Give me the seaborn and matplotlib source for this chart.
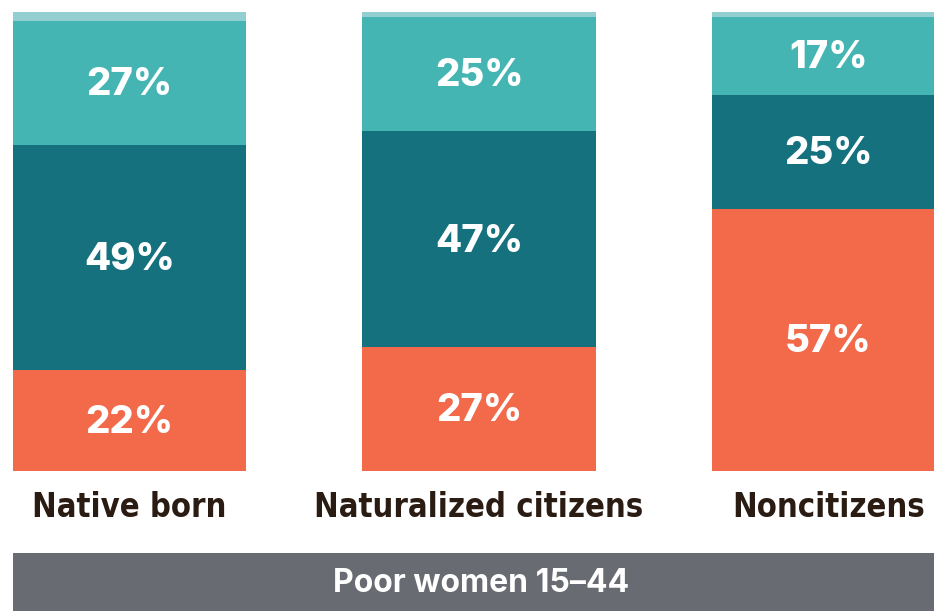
"""Stacked share bars: poor women 15-44 by citizenship status."""

import matplotlib

matplotlib.use("Agg")
import matplotlib.pyplot as plt
import pandas as pd
import seaborn as sns

GROUPS = ["Native born", "Naturalized citizens", "Noncitizens"]
BOTTOM = [22, 27, 57]   # orange segment
MIDDLE = [49, 47, 25]   # dark teal segment
TOP = [27, 25, 17]      # teal segment
REST = [2, 1, 1]        # thin light strip on top
BANNER = "Poor women 15–44"

COLORS = ["#F26A4A", "#14717D", "#44B5B3", "#93CFD0"]

sns.set_theme(style="white")
plt.rcParams["font.family"] = ["Inter", "DejaVu Sans"]

df = pd.DataFrame({"group": GROUPS, "bottom": BOTTOM, "middle": MIDDLE,
                   "top": TOP, "rest": REST})
segs = ["bottom", "middle", "top", "rest"]
cum = df[segs].cumsum(axis=1)

fig = plt.figure(figsize=(9.34, 6.11), dpi=100)
ax = fig.add_axes([13 / 934, 140 / 611, 921 / 934, 459 / 611])

# draw from the tallest cumulative total down so lower segments sit on top
for seg, color in reversed(list(zip(segs, COLORS))):
    sns.barplot(x=df["group"], y=cum[seg], color=color, width=0.667,
                saturation=1, linewidth=0, ax=ax, order=GROUPS)

ax.set_xlim(-0.3335, 2.302)
ax.set_ylim(0, 100)
ax.axis("off")

# percentage labels, centred in each segment
for i in range(len(GROUPS)):
    lo = 0
    for seg in segs[:3]:
        v = df.loc[i, seg]
        ax.text(i, lo + v / 2 - 0.5, f"{v}%", ha="center", va="center",
                color="white", fontsize=27.5, fontweight="heavy")
        lo += v

for i, g in enumerate(GROUPS):
    ax.text(i, -7.9, g, ha="center", va="center", color="#2A1C12",
            fontsize=23.5, fontweight="bold", fontstretch="condensed",
            family=["DejaVu Sans"], clip_on=False)

fig.patches.append(plt.Rectangle((13 / 934, 0), 921 / 934, 58 / 611,
                                 transform=fig.transFigure,
                                 facecolor="#696B73", edgecolor="none"))
fig.text(481 / 934, 27 / 611, BANNER, ha="center", va="center",
         color="white", fontsize=23, fontweight="bold")

fig.savefig("out.png", dpi=100)
